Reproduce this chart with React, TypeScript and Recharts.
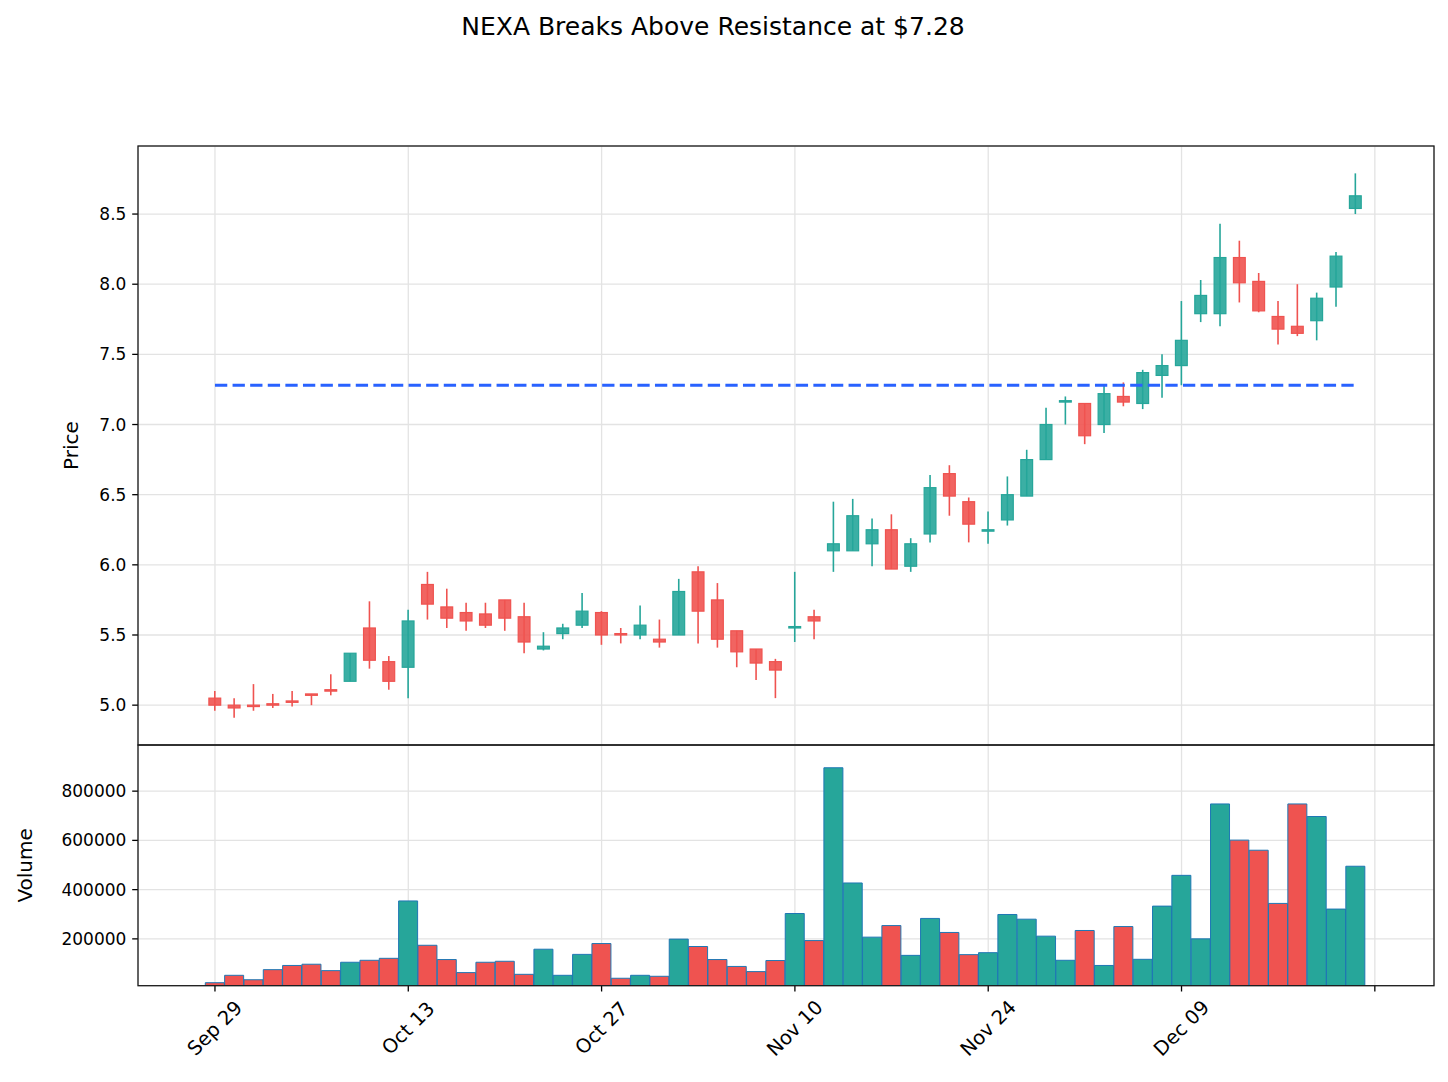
import { ComposedChart, Bar, Line, XAxis, YAxis, CartesianGrid, Cell } from 'recharts';

// Trading days (Thanksgiving skipped)
const dates = [
  'Sep 29', 'Sep 30', 'Oct 01', 'Oct 02', 'Oct 03', 'Oct 06', 'Oct 07', 'Oct 08', 'Oct 09', 'Oct 10',
  'Oct 13', 'Oct 14', 'Oct 15', 'Oct 16', 'Oct 17', 'Oct 20', 'Oct 21', 'Oct 22', 'Oct 23', 'Oct 24',
  'Oct 27', 'Oct 28', 'Oct 29', 'Oct 30', 'Oct 31', 'Nov 03', 'Nov 04', 'Nov 05', 'Nov 06', 'Nov 07',
  'Nov 10', 'Nov 11', 'Nov 12', 'Nov 13', 'Nov 14', 'Nov 17', 'Nov 18', 'Nov 19', 'Nov 20', 'Nov 21',
  'Nov 24', 'Nov 25', 'Nov 26', 'Nov 28', 'Dec 01', 'Dec 02', 'Dec 03', 'Dec 04', 'Dec 05', 'Dec 08',
  'Dec 09', 'Dec 10', 'Dec 11', 'Dec 12', 'Dec 15', 'Dec 16', 'Dec 17', 'Dec 18', 'Dec 19', 'Dec 22',
];

const opens = [
  5.05, 5.00, 5.00, 5.01, 5.03, 5.08, 5.11, 5.17, 5.55, 5.31,
  5.27, 5.86, 5.70, 5.66, 5.65, 5.75, 5.63, 5.40, 5.51, 5.57,
  5.66, 5.51, 5.50, 5.47, 5.50, 5.95, 5.75, 5.53, 5.40, 5.31,
  5.55, 5.63, 6.10, 6.10, 6.15, 6.25, 5.99, 6.22, 6.65, 6.45,
  6.24, 6.32, 6.49, 6.75, 7.16, 7.15, 7.00, 7.20, 7.15, 7.35,
  7.42, 7.79, 7.79, 8.19, 8.02, 7.77, 7.70, 7.74, 7.98, 8.54,
];
const highs = [
  5.10, 5.05, 5.15, 5.08, 5.10, 5.08, 5.22, 5.37, 5.74, 5.35,
  5.68, 5.95, 5.83, 5.73, 5.73, 5.75, 5.73, 5.52, 5.58, 5.80,
  5.67, 5.55, 5.71, 5.61, 5.90, 5.99, 5.87, 5.53, 5.40, 5.33,
  5.95, 5.68, 6.45, 6.47, 6.33, 6.36, 6.19, 6.64, 6.71, 6.48,
  6.38, 6.63, 6.82, 7.12, 7.20, 7.15, 7.28, 7.30, 7.39, 7.50,
  7.88, 8.03, 8.43, 8.31, 8.08, 7.88, 8.00, 7.94, 8.23, 8.79,
];
const lows = [
  4.96, 4.91, 4.96, 4.98, 4.99, 5.00, 5.07, 5.17, 5.26, 5.11,
  5.05, 5.61, 5.55, 5.53, 5.55, 5.53, 5.37, 5.39, 5.47, 5.55,
  5.43, 5.44, 5.47, 5.41, 5.50, 5.44, 5.41, 5.27, 5.18, 5.05,
  5.45, 5.47, 5.95, 6.10, 5.99, 5.97, 5.95, 6.16, 6.35, 6.16,
  6.15, 6.28, 6.49, 6.75, 7.00, 6.86, 6.94, 7.13, 7.11, 7.19,
  7.28, 7.73, 7.70, 7.87, 7.80, 7.57, 7.63, 7.60, 7.84, 8.50,
];
const closes = [
  5.00, 4.98, 4.99, 5.00, 5.02, 5.07, 5.10, 5.37, 5.32, 5.17,
  5.60, 5.72, 5.62, 5.60, 5.57, 5.62, 5.45, 5.42, 5.55, 5.67,
  5.50, 5.50, 5.57, 5.45, 5.81, 5.67, 5.47, 5.38, 5.30, 5.25,
  5.56, 5.60, 6.15, 6.35, 6.25, 5.97, 6.15, 6.55, 6.49, 6.29,
  6.25, 6.50, 6.75, 7.00, 7.17, 6.92, 7.22, 7.16, 7.37, 7.42,
  7.60, 7.92, 8.19, 8.01, 7.81, 7.68, 7.65, 7.90, 8.20, 8.63,
];
const volumes = [
  22000, 52000, 34000, 75000, 92000, 97000, 71000, 105000, 113000, 121000,
  354000, 174000, 116000, 63000, 105000, 109000, 56000, 158000, 52000, 137000,
  181000, 40000, 52000, 48000, 199000, 169000, 116000, 88000, 67000, 112000,
  303000, 193000, 895000, 427000, 207000, 254000, 133000, 283000, 226000, 136000,
  144000, 299000, 280000, 211000, 113000, 234000, 92000, 250000, 117000, 333000,
  458000, 200000, 748000, 601000, 560000, 344000, 748000, 697000, 321000, 495000,
];

const RESISTANCE = 7.28;
const priceTicks = [5, 5.5, 6, 6.5, 7, 7.5, 8, 8.5];
const volumeTicks = [200000, 400000, 600000, 800000];
const dateTicks = [0, 10, 20, 30, 40, 50, 60];

const UP = '#26a69a';
const DOWN = '#ef5350';
const GRID = '#e3e3e3';
const FONT = 'DejaVu Sans, sans-serif';

// one empty slot after the last session so the axis has a spare tick
const rows = Array.from({ length: dates.length + 1 }, (_, i) =>
  i < dates.length
    ? { i, open: opens[i], high: highs[i], low: lows[i], close: closes[i], volume: volumes[i], res: RESISTANCE }
    : { i }
);

const xPadding = { left: 67.3, right: 49.5 };

const Candle = (props: any) => {
  const { x, y, width, height, payload } = props;
  if (!payload || payload.open == null || height == null) return null;
  const { open, close, high, low } = payload;
  const color = close >= open ? UP : DOWN;
  const top0 = Math.min(y, y + height);
  const h = Math.abs(height);
  const unit = h / (high - low);
  const bodyTop = top0 + (high - Math.max(open, close)) * unit;
  const bodyBottom = top0 + (high - Math.min(open, close)) * unit;
  const cx = x + width / 2;
  return (
    <g>
      <line x1={cx} x2={cx} y1={top0} y2={top0 + h} stroke={color} strokeWidth={1.6} />
      <rect
        x={x + 0.6}
        y={bodyTop}
        width={width - 1.2}
        height={Math.max(bodyBottom - bodyTop, 0.8)}
        fill={color}
        fillOpacity={0.9}
        stroke={color}
        strokeWidth={1.2}
      />
    </g>
  );
};

const DateTick = ({ x, y, payload }: any) => {
  const label = dates[payload.value];
  if (!label) return null;
  const cy = y + 31;
  return (
    <text
      x={x}
      y={cy}
      textAnchor="middle"
      dominantBaseline="central"
      transform={`rotate(-45 ${x} ${cy})`}
      fontSize={19.5}
      fill="#000"
      fontFamily={FONT}
    >
      {label}
    </text>
  );
};

const tickStyle = { fill: '#000', fontSize: 17, fontFamily: FONT };

export default function App() {
  return (
    <div style={{ position: 'absolute', left: 0, top: 0, width: 1448, height: 1082, background: '#fff', fontFamily: FONT }}>
      <div style={{ position: 'absolute', left: 0, top: 0 }}>
        <ComposedChart width={1448} height={760} data={rows} margin={{ top: 146, right: 14, bottom: 15, left: 58 }}>
          <CartesianGrid stroke={GRID} strokeWidth={1.3} />
          <XAxis dataKey="i" type="category" hide ticks={dateTicks} interval={0} padding={xPadding} />
          <YAxis
            type="number"
            domain={[4.716, 8.985]}
            allowDataOverflow
            ticks={priceTicks}
            interval={0}
            tickFormatter={(v: number) => v.toFixed(1)}
            width={80}
            axisLine={false}
            tickLine={{ stroke: '#000', strokeWidth: 1.3 }}
            tickSize={5.8}
            tickMargin={5.8}
            tick={tickStyle}
          />
          <Bar
            dataKey={(d: any) => (d.open == null ? null : [d.low, d.high])}
            barSize={13}
            shape={Candle}
            isAnimationActive={false}
          />
          <Line
            dataKey="res"
            stroke="#2962ff"
            strokeWidth={3.2}
            strokeDasharray="12.3 5.3"
            dot={false}
            activeDot={false}
            isAnimationActive={false}
          />
        </ComposedChart>
      </div>

      <div style={{ position: 'absolute', left: 0, top: 700 }}>
        <ComposedChart width={1448} height={382} data={rows} margin={{ top: 45, right: 14, bottom: 0, left: 58 }} barCategoryGap={0}>
          <CartesianGrid stroke={GRID} strokeWidth={1.3} />
          <XAxis
            dataKey="i"
            type="category"
            ticks={dateTicks}
            interval={0}
            padding={xPadding}
            height={96.3}
            axisLine={false}
            tickLine={{ stroke: '#000', strokeWidth: 1.3 }}
            tickSize={5.8}
            tickMargin={5.8}
            tick={<DateTick />}
          />
          <YAxis
            type="number"
            domain={[9800, 987400]}
            allowDataOverflow
            ticks={volumeTicks}
            interval={0}
            width={80}
            axisLine={false}
            tickLine={{ stroke: '#000', strokeWidth: 1.3 }}
            tickSize={5.8}
            tickMargin={5.8}
            tick={tickStyle}
          />
          <Bar dataKey="volume" stroke="#1f77b4" strokeWidth={1} isAnimationActive={false}>
            {rows.map((r: any) => (
              <Cell key={r.i} fill={r.close >= r.open ? UP : DOWN} />
            ))}
          </Bar>
        </ComposedChart>
      </div>

      <svg width={1448} height={1082} style={{ position: 'absolute', left: 0, top: 0, pointerEvents: 'none' }}>
        <text x={713} y={35} textAnchor="middle" fontSize={25} fill="#000" fontFamily={FONT}>
          NEXA Breaks Above Resistance at $7.28
        </text>
        <text x={71} y={445.5} textAnchor="middle" dominantBaseline="central" transform="rotate(-90 71 445.5)" fontSize={20} fill="#000" fontFamily={FONT}>
          Price
        </text>
        <text x={25} y={865.4} textAnchor="middle" dominantBaseline="central" transform="rotate(-90 25 865.4)" fontSize={20} fill="#000" fontFamily={FONT}>
          Volume
        </text>
        <rect x={138} y={146} width={1296} height={599} fill="none" stroke="#1a1a1a" strokeWidth={1.3} />
        <rect x={138} y={745} width={1296} height={240.7} fill="none" stroke="#1a1a1a" strokeWidth={1.3} />
      </svg>
    </div>
  );
}
